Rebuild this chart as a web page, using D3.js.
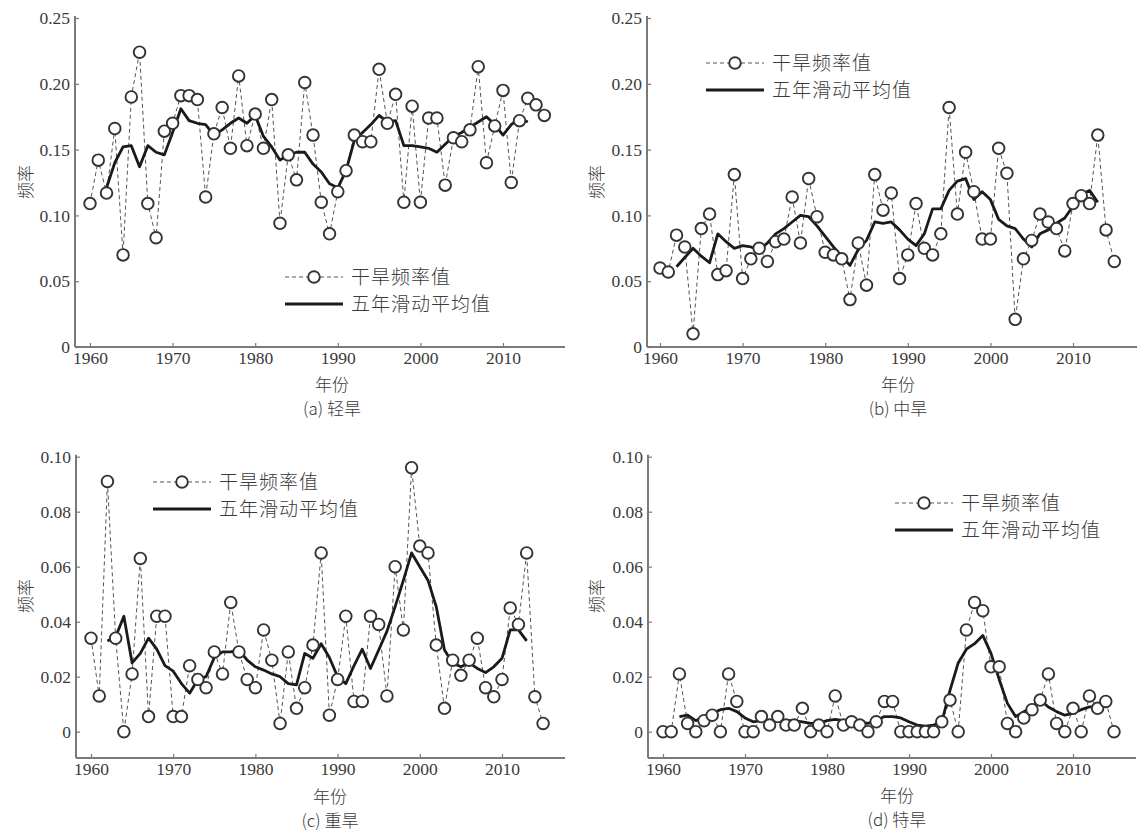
<!DOCTYPE html>
<html>
<head>
<meta charset="utf-8">
<script src="https://cdn.jsdelivr.net/npm/d3@7"></script>
<style>
  body { margin: 0; background: #fff; }
  svg text { fill: #3a3a3a; }
  .num { font-family: "Liberation Serif", "DejaVu Serif", serif; font-size: 17.5px; }
  .cjk { font-family: "Noto Sans CJK SC", sans-serif; font-size: 17px; font-weight: 300; }
  .leg { font-family: "Noto Sans CJK SC", sans-serif; font-size: 19px; font-weight: 300; }
</style>
</head>
<body>
<svg width="1140" height="831"></svg>
<script>
// years 1960-2015, moving average 1962-2013
const startYear = 1960;
const maStart = 1962;

const freqLight = [0.109, 0.142, 0.117, 0.166, 0.070, 0.190, 0.224, 0.109, 0.083, 0.164,
  0.170, 0.191, 0.191, 0.188, 0.114, 0.162, 0.182, 0.151, 0.206, 0.153,
  0.177, 0.151, 0.188, 0.094, 0.146, 0.127, 0.201, 0.161, 0.110, 0.086,
  0.118, 0.134, 0.161, 0.156, 0.156, 0.211, 0.170, 0.192, 0.110, 0.183,
  0.110, 0.174, 0.174, 0.123, 0.159, 0.156, 0.165, 0.213, 0.140, 0.168,
  0.195, 0.125, 0.172, 0.189, 0.184, 0.176];
const maLight = [0.121, 0.140, 0.152, 0.153, 0.137, 0.153, 0.148, 0.146,
  0.163, 0.181, 0.172, 0.170, 0.169, 0.161, 0.165, 0.170, 0.174, 0.170,
  0.176, 0.160, 0.152, 0.142, 0.146, 0.148, 0.148, 0.139, 0.133, 0.124,
  0.121, 0.134, 0.157, 0.163, 0.169, 0.176, 0.171, 0.172, 0.153, 0.153,
  0.152, 0.151, 0.148, 0.154, 0.160, 0.163, 0.167, 0.171, 0.175, 0.169,
  0.161, 0.169, 0.174, 0.171];

const freqModerate = [0.060, 0.057, 0.085, 0.076, 0.010, 0.090, 0.101, 0.055, 0.058, 0.131,
  0.052, 0.067, 0.075, 0.065, 0.080, 0.082, 0.114, 0.079, 0.128, 0.099,
  0.072, 0.070, 0.067, 0.036, 0.079, 0.047, 0.131, 0.104, 0.117, 0.052,
  0.070, 0.109, 0.075, 0.070, 0.086, 0.182, 0.101, 0.148, 0.118, 0.082,
  0.082, 0.151, 0.132, 0.021, 0.067, 0.081, 0.101, 0.095, 0.090, 0.073,
  0.109, 0.115, 0.109, 0.161, 0.089, 0.065];
const maModerate = [0.061, 0.068, 0.075, 0.069, 0.064, 0.086, 0.080, 0.075,
  0.077, 0.076, 0.074, 0.079, 0.086, 0.090, 0.095, 0.100, 0.099, 0.092,
  0.084, 0.076, 0.069, 0.062, 0.074, 0.081, 0.095, 0.094, 0.095, 0.089,
  0.082, 0.077, 0.086, 0.105, 0.105, 0.119, 0.126, 0.128, 0.112, 0.118,
  0.112, 0.097, 0.092, 0.090, 0.082, 0.076, 0.086, 0.089, 0.094, 0.098,
  0.107, 0.116, 0.119, 0.110];

const freqSevere = [0.034, 0.013, 0.091, 0.034, 0.000, 0.021, 0.063, 0.0055, 0.042, 0.042,
  0.0055, 0.0055, 0.024, 0.019, 0.016, 0.029, 0.021, 0.047, 0.029, 0.019,
  0.016, 0.037, 0.026, 0.003, 0.029, 0.0085, 0.016, 0.0315, 0.065, 0.006,
  0.019, 0.042, 0.011, 0.011, 0.042, 0.039, 0.013, 0.060, 0.037, 0.096,
  0.0675, 0.065, 0.0315, 0.0085, 0.026, 0.0205, 0.026, 0.034, 0.016, 0.0127,
  0.019, 0.045, 0.039, 0.065, 0.0127, 0.003];
const maSevere = [0.033, 0.0345, 0.042, 0.025, 0.0285, 0.034, 0.030, 0.024,
  0.022, 0.0175, 0.014, 0.019, 0.020, 0.027, 0.029, 0.029, 0.0297, 0.026,
  0.0236, 0.0224, 0.021, 0.020, 0.0175, 0.017, 0.0285, 0.0267, 0.032, 0.027,
  0.020, 0.0175, 0.024, 0.030, 0.023, 0.0297, 0.0365, 0.0455, 0.055, 0.065,
  0.060, 0.055, 0.0455, 0.0297, 0.025, 0.0236, 0.025, 0.023, 0.0215, 0.0236,
  0.0267, 0.037, 0.037, 0.033];

const freqExtreme = [0, 0, 0.021, 0.003, 0, 0.004, 0.006, 0, 0.021, 0.011,
  0, 0, 0.0055, 0.0024, 0.0055, 0.0024, 0.0024, 0.0085, 0, 0.0024,
  0, 0.013, 0.0024, 0.0036, 0.0024, 0, 0.0036, 0.011, 0.011, 0,
  0, 0, 0, 0, 0.0036, 0.0115, 0, 0.037, 0.047, 0.044,
  0.0236, 0.0236, 0.003, 0, 0.005, 0.008, 0.0115, 0.021, 0.003, 0,
  0.0085, 0, 0.013, 0.0085, 0.011, 0];
const maExtreme = [0.0055, 0.006, 0.004, 0.0055, 0.0067, 0.008, 0.0085, 0.0073,
  0.005, 0.0036, 0.004, 0.004, 0.0045, 0.004, 0.004, 0.0036, 0.003, 0.003,
  0.004, 0.0045, 0.004, 0.0036, 0.0036, 0.003, 0.004, 0.0055, 0.0055, 0.005,
  0.0036, 0.0024, 0.002, 0.0024, 0.0036, 0.015, 0.025, 0.030, 0.032, 0.035,
  0.0285, 0.019, 0.0103, 0.0055, 0.0073, 0.009, 0.0115, 0.009, 0.0073, 0.006,
  0.0067, 0.008, 0.009, 0.009];

const yearTicks = [1960, 1970, 1980, 1990, 2000, 2010];
const ticksHigh = [0, 0.05, 0.10, 0.15, 0.20, 0.25];
const ticksLow = [0, 0.02, 0.04, 0.06, 0.08, 0.10];
const legendLabels = ["干旱频率值", "五年滑动平均值"];
const titles = ["(a) 轻旱", "(b) 中旱", "(c) 重旱", "(d) 特旱"];

const svg = d3.select("svg");

function drawPanel(p) {
    const g = svg.append("g");
    const x = d3.scaleLinear().domain([1960, 2010]).range([p.x1960, p.x2010]);
    const y = d3.scaleLinear().domain([0, p.yTicks[p.yTicks.length - 1]]).range([p.y0, p.yTop]);
    const xLeft = p.axisX, xRight = p.axisRight;

    // axes
    const yAxis = g.append("g").attr("transform", "translate(" + xLeft + ",0)")
        .call(d3.axisLeft(y).tickValues(p.yTicks).tickSizeInner(-4).tickSizeOuter(0)
            .tickFormat(d => d === 0 ? "0" : d3.format(".2f")(d)));
    yAxis.select(".domain").attr("d", "M0," + (p.yTop - 2) + "V" + p.axisY);
    const xAxis = g.append("g").attr("transform", "translate(0," + p.axisY + ")")
        .call(d3.axisBottom(x).tickValues(yearTicks).tickSizeInner(-4).tickSizeOuter(0).tickFormat(d3.format("d")));
    xAxis.select(".domain").attr("d", "M" + xLeft + ",0H" + xRight);
    [yAxis, xAxis].forEach(a => {
        a.selectAll(".domain").attr("stroke", "#7a7a7a").attr("stroke-width", 2);
        a.selectAll(".tick line").attr("stroke", "#7a7a7a").attr("stroke-width", 1.2);
        a.selectAll("text").attr("class", "num").attr("fill", "#3a3a3a");
    });
    yAxis.selectAll("text").attr("x", -5);
    xAxis.selectAll("text").attr("y", 5);

    const pts = p.freq.map((v, i) => [startYear + i, v]);
    const ma = p.ma.map((v, i) => [maStart + i, v]);
    const line = d3.line().x(d => x(d[0])).y(d => y(d[1]));

    g.append("path").attr("d", line(pts)).attr("fill", "none")
        .attr("stroke", "#555").attr("stroke-width", 1).attr("stroke-dasharray", "4,3");
    g.append("path").attr("d", line(ma)).attr("fill", "none")
        .attr("stroke", "#1a1a1a").attr("stroke-width", 2.8).attr("stroke-linejoin", "round");
    g.selectAll("circle.pt").data(pts).enter().append("circle")
        .attr("class", "pt")
        .attr("cx", d => x(d[0])).attr("cy", d => y(d[1])).attr("r", 5.8)
        .attr("fill", "#fff").attr("stroke", "#333").attr("stroke-width", 1.9);

    // legend
    const lg = g.append("g").attr("transform", "translate(" + p.legX + "," + p.legY + ")");
    lg.append("line").attr("x1", 0).attr("x2", 58).attr("y1", 0).attr("y2", 0)
        .attr("stroke", "#555").attr("stroke-width", 1).attr("stroke-dasharray", "4,3");
    lg.append("circle").attr("cx", 29).attr("cy", 0).attr("r", 5.8)
        .attr("fill", "#fff").attr("stroke", "#333").attr("stroke-width", 1.9);
    lg.append("line").attr("x1", 0).attr("x2", 58).attr("y1", 27).attr("y2", 27)
        .attr("stroke", "#1a1a1a").attr("stroke-width", 2.8);
    legendLabels.forEach((t, i) => {
        lg.append("text").attr("class", "leg").attr("x", 66).attr("y", i * 27)
            .attr("dy", "0.35em").style("letter-spacing", "1px").text(t);
    });

    // labels
    g.append("text").attr("class", "cjk")
        .attr("transform", "translate(" + p.yLabX + "," + p.yLabY + ") rotate(-90)")
        .attr("text-anchor", "middle").attr("dy", "0.35em").text("频率");
    g.append("text").attr("class", "cjk").attr("x", p.titleX).attr("y", p.xLabY)
        .attr("text-anchor", "middle").attr("dy", "0.35em").text("年份");
    g.append("text").attr("class", "cjk").attr("x", p.titleX).attr("y", p.titleY)
        .attr("text-anchor", "middle").attr("dy", "0.35em").text(p.title);
}

drawPanel({ freq: freqLight, ma: maLight, yTicks: ticksHigh, title: titles[0],
    x1960: 90, x2010: 503, axisX: 75, axisRight: 565, y0: 347, yTop: 18, axisY: 347,
    legX: 285, legY: 277, yLabX: 26, yLabY: 182, titleX: 332, xLabY: 385, titleY: 409 });
drawPanel({ freq: freqModerate, ma: maModerate, yTicks: ticksHigh, title: titles[1],
    x1960: 660, x2010: 1073, axisX: 647, axisRight: 1137, y0: 347, yTop: 18, axisY: 347,
    legX: 706, legY: 63, yLabX: 597, yLabY: 182, titleX: 898, xLabY: 385, titleY: 409 });
drawPanel({ freq: freqSevere, ma: maSevere, yTicks: ticksLow, title: titles[2],
    x1960: 91, x2010: 502, axisX: 76, axisRight: 565, y0: 731.7, yTop: 456.7, axisY: 758,
    legX: 153, legY: 482, yLabX: 26, yLabY: 596, titleX: 330, xLabY: 797, titleY: 821 });
drawPanel({ freq: freqExtreme, ma: maExtreme, yTicks: ticksLow, title: titles[3],
    x1960: 663, x2010: 1073, axisX: 648, axisRight: 1136, y0: 731.7, yTop: 456.7, axisY: 758,
    legX: 895, legY: 503, yLabX: 597, yLabY: 596, titleX: 897, xLabY: 796, titleY: 820 });
</script>
</body>
</html>
